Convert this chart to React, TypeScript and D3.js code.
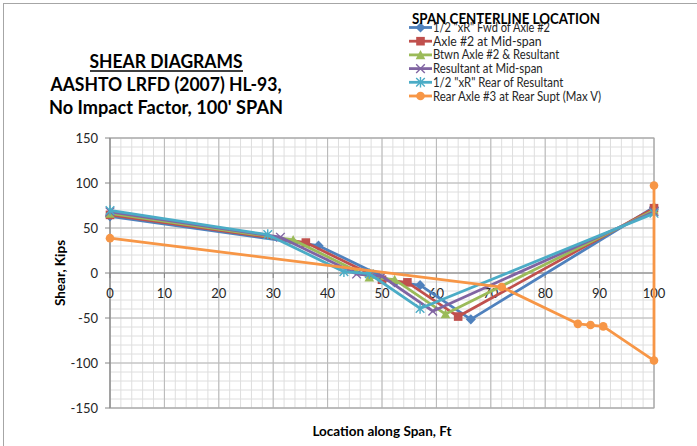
import React from "react";
import * as d3 from "d3";

// ---- data ----
const seriesNames = [
  '1/2 "xR" Fwd of Axle #2',
  "Axle #2 at Mid-span",
  "Btwn Axle #2 & Resultant",
  "Resultant at Mid-span",
  '1/2 "xR" Rear of Resultant',
  "Rear Axle #3 at Rear Supt (Max V)",
];
const xFwd = [0, 38.33, 52.33, 57, 66.33, 100];
const vFwd = [63.0, 30.4, -10.5, -13.5, -51.5, 73.0];
const xAxle2 = [0, 36, 50, 54.67, 64, 100];
const vAxle2 = [64.6, 33.8, -7.5, -10.4, -48.4, 72.0];
const xBtwn = [0, 33.67, 47.67, 52.33, 61.67, 100];
const vBtwn = [66.3, 36.8, -4.6, -7.4, -45.6, 69.7];
const xResult = [0, 31.33, 45.33, 50, 59.33, 100];
const vResult = [68.0, 39.8, -1.2, -3.6, -42.4, 68.0];
const xRear = [0, 29, 43, 47.67, 57, 100];
const vRear = [69.5, 42.6, 1.5, -0.8, -39.4, 66.3];
const xMaxV = [0, 72, 86, 88.33, 90.67, 100, 100];
const vMaxV = [38.7, -15.6, -56.5, -57.8, -59.3, -97.3, 97.3];

const xTicks = [0, 10, 20, 30, 40, 50, 60, 70, 80, 90, 100];
const yTicks = [-150, -100, -50, 0, 50, 100, 150];

const colors = ["#4F81BD", "#C0504D", "#9BBB59", "#8064A2", "#4BACC6", "#F79646"];
const markerKinds = ["diamond", "square", "triangle", "x", "star", "circle"];

const FONT = "Lato, 'Open Sans', 'DejaVu Sans', sans-serif";

function Marker({ kind, x, y, color }: { kind: string; x: number; y: number; color: string }) {
  const s = 4.3;
  if (kind === "diamond")
    return <path d={`M${x},${y - s - 0.8}L${x + s + 0.8},${y}L${x},${y + s + 0.8}L${x - s - 0.8},${y}Z`} fill={color} />;
  if (kind === "square") return <rect x={x - s} y={y - s} width={2 * s} height={2 * s} fill={color} />;
  if (kind === "triangle")
    return <path d={`M${x},${y - s - 0.5}L${x + s + 0.5},${y + s}L${x - s - 0.5},${y + s}Z`} fill={color} />;
  if (kind === "circle") return <circle cx={x} cy={y} r={s} fill={color} />;
  if (kind === "x")
    return (
      <path d={`M${x - s},${y - s}L${x + s},${y + s}M${x - s},${y + s}L${x + s},${y - s}`} stroke={color} strokeWidth={1.4} />
    );
  // star / asterisk
  return (
    <path
      d={`M${x - s},${y - s}L${x + s},${y + s}M${x - s},${y + s}L${x + s},${y - s}M${x},${y - s - 1}L${x},${y + s + 1}`}
      stroke={color}
      strokeWidth={1.4}
    />
  );
}

export default function App() {
  const W = 697,
    H = 446;
  const x = d3.scaleLinear().domain([0, 100]).range([110, 654]);
  const y = d3.scaleLinear().domain([-150, 150]).range([408, 138]);

  const series = [
    { xs: xFwd, vs: vFwd },
    { xs: xAxle2, vs: vAxle2 },
    { xs: xBtwn, vs: vBtwn },
    { xs: xResult, vs: vResult },
    { xs: xRear, vs: vRear },
    { xs: xMaxV, vs: vMaxV },
  ];

  const line = d3
    .line<[number, number]>()
    .x((d) => x(d[0]))
    .y((d) => y(d[1]));

  const minorX = d3.range(0, 101, 2);
  const minorY = d3.range(-150, 151, 10);

  const legendTextWidths = [117, 108.7, 126.3, 109.7, 130.3, 168];

  return (
    <svg
      width={W}
      height={H}
      style={{ position: "absolute", left: 0, top: 0, background: "#fff" }}
      fontFamily={FONT}
    >
      <rect x={0} y={0} width={W} height={H} fill="#fff" />
      <rect x={3.5} y={3.5} width={W + 20} height={H + 20} fill="none" stroke="#A6A6A6" strokeWidth={1} />

      {/* minor grid */}
      {minorX.map((v) => (
        <line key={"mx" + v} x1={x(v)} x2={x(v)} y1={y(150)} y2={y(-150)} stroke="#DEDEDE" strokeWidth={1} />
      ))}
      {minorY.map((v) => (
        <line key={"my" + v} x1={x(0)} x2={x(100)} y1={y(v)} y2={y(v)} stroke="#DEDEDE" strokeWidth={1} />
      ))}
      {/* major grid */}
      {xTicks.map((v) => (
        <line key={"gx" + v} x1={x(v)} x2={x(v)} y1={y(150)} y2={y(-150)} stroke="#B8B8B8" strokeWidth={1} />
      ))}
      {yTicks.map((v) => (
        <line key={"gy" + v} x1={x(0)} x2={x(100)} y1={y(v)} y2={y(v)} stroke="#B8B8B8" strokeWidth={1} />
      ))}
      <rect x={x(0)} y={y(150)} width={x(100) - x(0)} height={y(-150) - y(150)} fill="none" stroke="#A6A6A6" />

      {/* axes */}
      <line x1={x(0)} x2={x(0)} y1={y(150)} y2={y(-150)} stroke="#868686" strokeWidth={1} />
      <line x1={x(0)} x2={x(100)} y1={y(0)} y2={y(0)} stroke="#868686" strokeWidth={1} />
      {yTicks.map((v) => (
        <g key={"yt" + v}>
          <line x1={x(0) - 5} x2={x(0)} y1={y(v)} y2={y(v)} stroke="#868686" />
          <text x={98} y={y(v) + 4.5} textAnchor="end" fontSize={13} fill="#262626">
            {v}
          </text>
        </g>
      ))}
      {xTicks.map((v) => (
        <g key={"xt" + v}>
          <line x1={x(v)} x2={x(v)} y1={y(0)} y2={y(0) + 5} stroke="#868686" />
          <text x={x(v)} y={y(0) + 25} textAnchor="middle" fontSize={13} fill="#262626">
            {v}
          </text>
        </g>
      ))}

      {/* series */}
      {series.map((s, i) => {
        const pts = s.xs.map((xv, j) => [xv, s.vs[j]] as [number, number]);
        return (
          <g key={"s" + i}>
            <path d={line(pts) || ""} fill="none" stroke={colors[i]} strokeWidth={2.8} strokeLinejoin="round" />
            {pts.map((p, j) => (
              <Marker key={j} kind={markerKinds[i]} x={x(p[0])} y={y(p[1])} color={colors[i]} />
            ))}
          </g>
        );
      })}

      {/* axis titles */}
      <text x={382} y={436} textAnchor="middle" fontSize={13.5} fontWeight="bold" fill="#000">
        Location along Span, Ft
      </text>
      <text
        transform={`translate(65,273) rotate(-90)`}
        textAnchor="middle"
        fontSize={13.5}
        fontWeight="bold"
        fill="#000"
      >
        Shear, Kips
      </text>

      {/* chart title */}
      <text x={166} y={68} textAnchor="middle" fontSize={19} fontWeight="bold" fill="#000" textLength={153} lengthAdjust="spacingAndGlyphs">
        SHEAR DIAGRAMS
      </text>
      <line x1={90} x2={243} y1={71} y2={71} stroke="#000" strokeWidth={1.4} />
      <text x={166} y={91} textAnchor="middle" fontSize={19} fontWeight="bold" fill="#000" textLength={231} lengthAdjust="spacingAndGlyphs">
        AASHTO LRFD (2007) HL-93,
      </text>
      <text x={166} y={114} textAnchor="middle" fontSize={19} fontWeight="bold" fill="#000" textLength={234} lengthAdjust="spacingAndGlyphs">
        No Impact Factor, 100' SPAN
      </text>

      {/* legend */}
      {seriesNames.map((name, i) => {
        const cy = 27.5 + i * 13.7;
        return (
          <g key={"lg" + i}>
            <line x1={409} x2={432} y1={cy} y2={cy} stroke={colors[i]} strokeWidth={2.8} />
            <Marker kind={markerKinds[i]} x={420.5} y={cy} color={colors[i]} />
            <text x={433} y={cy + 4.5} fontSize={12.5} fill="#262626" textLength={legendTextWidths[i]} lengthAdjust="spacingAndGlyphs">
              {name}
            </text>
          </g>
        );
      })}
      <text x={412} y={23.5} fontSize={14.5} fontWeight="bold" fill="#000" textLength={188} lengthAdjust="spacingAndGlyphs">
        SPAN CENTERLINE LOCATION
      </text>
    </svg>
  );
}
